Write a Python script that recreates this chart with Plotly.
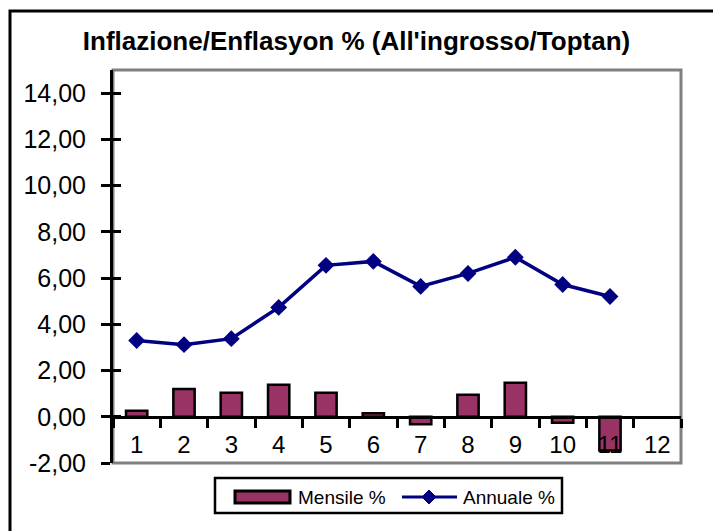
import plotly.graph_objects as go

months = ["1", "2", "3", "4", "5", "6", "7", "8", "9", "10", "11", "12"]
mensile = [0.26, 1.20, 1.04, 1.39, 1.04, 0.15, -0.32, 0.95, 1.47, -0.26, -1.46, None]
annuale = [3.30, 3.12, 3.38, 4.73, 6.55, 6.72, 5.64, 6.20, 6.90, 5.72, 5.20, None]
y_ticks = [-2, 0, 2, 4, 6, 8, 10, 12, 14]
y_ticktext = [f"{v:.2f}".replace(".", ",") for v in y_ticks]
title_text = "Inflazione/Enflasyon % (All'ingrosso/Toptan)"
legend_names = ["Mensile %", "Annuale %"]

FONT = "Liberation Sans, Arial, sans-serif"
W, H = 713, 531
L, R, T, B = 113, 32, 70, 68
pw, ph = W - L - R, H - T - B
ymin, ymax = -2, 15
BAR_COLOR = "#993366"
LINE_COLOR = "#000080"


def px_x(p):
    return (p - L) / pw


def px_y(p):
    return (H - B - p) / ph


fig = go.Figure()
fig.add_trace(go.Bar(
    x=months, y=mensile, name=legend_names[0],
    marker=dict(color=BAR_COLOR, line=dict(color="black", width=2.5)),
    width=0.45, showlegend=False,
))
fig.add_trace(go.Scatter(
    x=months, y=annuale, name=legend_names[1], mode="lines+markers",
    line=dict(color=LINE_COLOR, width=3.5),
    marker=dict(symbol="diamond", size=13, color=LINE_COLOR),
    showlegend=False,
))
# dummy trace to activate yaxis2 (inside tick marks)
fig.add_trace(go.Scatter(x=[months[0]], y=[None], yaxis="y2", showlegend=False,
                         hoverinfo="skip"))

fig.update_layout(
    width=W, height=H,
    margin=dict(l=L, r=R, t=T, b=B),
    paper_bgcolor="white", plot_bgcolor="white",
    font=dict(family=FONT, color="black"),
    title=dict(text="<b>" + title_text + "</b>", x=0.5, xanchor="center",
               y=1 - 41 / H, yanchor="middle",
               font=dict(size=26, family=FONT, color="black")),
    showlegend=False,
    xaxis=dict(type="category", categoryorder="array", categoryarray=months,
               range=[-0.5, len(months) - 0.5], autorange=False,
               anchor="free", position=(0 - ymin) / (ymax - ymin),
               showline=True, linecolor="black", linewidth=3,
               ticks="outside", tickson="boundaries", ticklen=9, tickwidth=3,
               tickcolor="black", showgrid=False, zeroline=False,
               tickfont=dict(size=24, family=FONT), ticklabelstandoff=5),
    yaxis=dict(range=[ymin, ymax], tickmode="array", tickvals=y_ticks,
               ticktext=y_ticktext,
               showline=True, linecolor="black", linewidth=3,
               ticks="outside", ticklen=9, tickwidth=3, tickcolor="black",
               showgrid=False, zeroline=False,
               tickfont=dict(size=25, family=FONT), ticklabelstandoff=10),
    yaxis2=dict(range=[ymin, ymax], tickmode="array", tickvals=y_ticks,
                overlaying="y", side="left", anchor="x", showticklabels=False,
                ticks="inside", ticklen=8, tickwidth=3, tickcolor="black",
                showline=False, showgrid=False, zeroline=False),
)

# gray plot-area frame
fig.add_shape(type="rect", xref="paper", yref="paper", x0=0, x1=1, y0=0, y1=1,
              line=dict(color="#808080", width=3), layer="below")
# outer chart frame
fig.add_shape(type="rect", xref="paper", yref="paper",
              x0=px_x(10), x1=px_x(725), y0=px_y(545), y1=px_y(11),
              line=dict(color="black", width=3), layer="below")

# legend box (drawn manually to mimic the original wide symbols)
fig.add_shape(type="rect", xref="paper", yref="paper",
              x0=px_x(215), x1=px_x(562), y0=px_y(513), y1=px_y(478),
              line=dict(color="black", width=2.5), fillcolor="white")
fig.add_shape(type="rect", xref="paper", yref="paper",
              x0=px_x(235), x1=px_x(290), y0=px_y(503), y1=px_y(491),
              line=dict(color="black", width=3), fillcolor=BAR_COLOR)
fig.add_shape(type="line", xref="paper", yref="paper",
              x0=px_x(402), x1=px_x(457), y0=px_y(497), y1=px_y(497),
              line=dict(color=LINE_COLOR, width=3))
cx, cy, d = 429, 497, 7
fig.add_shape(type="path", xref="paper", yref="paper",
              path=(f"M {px_x(cx - d)} {px_y(cy)} L {px_x(cx)} {px_y(cy - d)} "
                    f"L {px_x(cx + d)} {px_y(cy)} L {px_x(cx)} {px_y(cy + d)} Z"),
              line=dict(color=LINE_COLOR, width=1), fillcolor=LINE_COLOR)
fig.add_annotation(text=legend_names[0], xref="paper", yref="paper",
                   x=px_x(296), y=px_y(497), xanchor="left", yanchor="middle",
                   showarrow=False, font=dict(size=19, family=FONT))
fig.add_annotation(text=legend_names[1], xref="paper", yref="paper",
                   x=px_x(461), y=px_y(497), xanchor="left", yanchor="middle",
                   showarrow=False, font=dict(size=19, family=FONT))

fig.write_html("out.html", config={"displayModeBar": False},
               post_script="document.body.style.margin='0';")
